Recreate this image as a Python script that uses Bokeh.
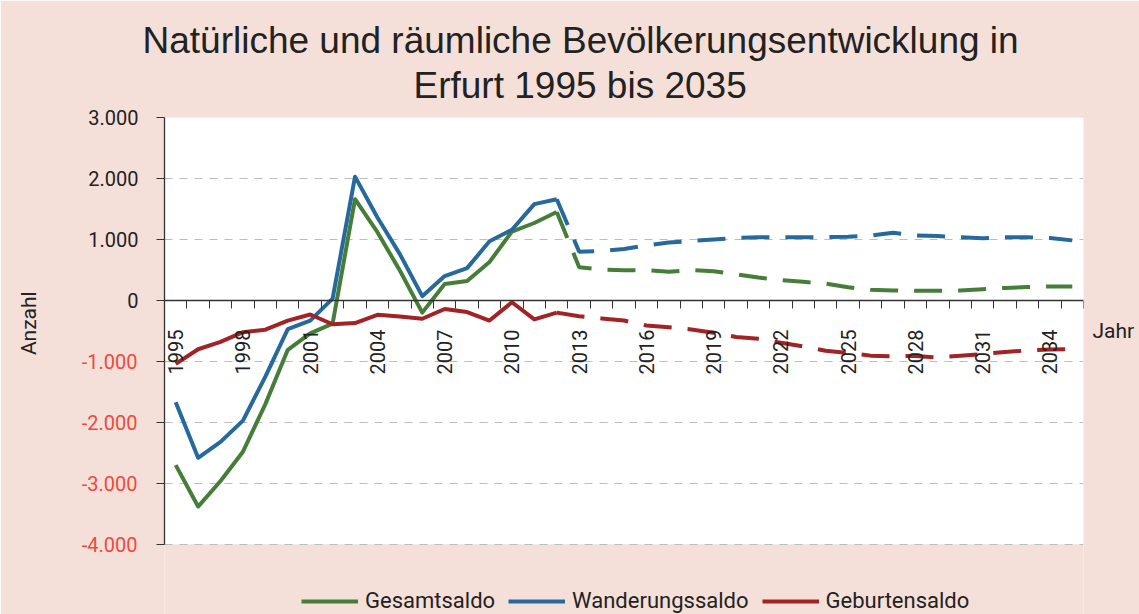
import math
from bokeh.plotting import figure
from bokeh.models import (Range1d, FixedTicker, Legend, LegendItem, Title,
                          LinearAxis, BoxAnnotation)
from bokeh.embed import file_html
from bokeh.resources import INLINE

# ---------------- data ----------------
years_hist = list(range(1995, 2013))
years_proj = list(range(2012, 2036))

gesamt_hist = [-2700, -3380, -2960, -2480, -1700, -810, -540, -380, 1660, 1120,
               490, -200, 270, 320, 630, 1130, 1270, 1450]
wander_hist = [-1670, -2580, -2320, -1970, -1250, -470, -330, 30, 2030, 1360,
               760, 70, 400, 530, 970, 1160, 1580, 1660]
geburt_hist = [-1040, -800, -680, -520, -480, -330, -230, -390, -370, -235,
               -265, -300, -140, -190, -330, -30, -310, -200]

gesamt_proj = [1450, 545, 505, 495, 495, 470, 500, 480, 430, 375, 335, 305,
               275, 215, 175, 165, 160, 160, 165, 185, 205, 220, 230, 230]
wander_proj = [1660, 800, 810, 845, 900, 950, 975, 1000, 1025, 1035, 1035, 1035,
               1040, 1045, 1065, 1110, 1065, 1055, 1035, 1020, 1035, 1035, 1025, 985]
geburt_proj = [-200, -260, -295, -330, -410, -440, -475, -530, -600, -630, -695, -755,
               -825, -860, -905, -915, -910, -935, -905, -880, -845, -820, -805, -800]

y_min, y_max = -4000, 3000
pos_ticks = [0, 1000, 2000, 3000]
pos_labels = ["0", "1.000", "2.000", "3.000"]
neg_ticks = [-4000, -3000, -2000, -1000]
neg_labels = ["-4.000", "-3.000", "-2.000", "-1.000"]
x_label_years = list(range(1995, 2035, 3))
all_years = list(range(1995, 2036))

title_line1 = "Natürliche und räumliche Bevölkerungsentwicklung in"
title_line2 = "Erfurt 1995 bis 2035"
series_names = ["Gesamtsaldo", "Wanderungssaldo", "Geburtensaldo"]
x_name = "Jahr"
y_name = "Anzahl"

# ---------------- style ----------------
PINK = "#F5E0D9"
GREEN = "#467E39"
BLUE = "#26699A"
RED = "#A12326"
NEG = "#EE4A3D"
TXT = "#222222"
AX = "#333333"
FONT = "Roboto"
TFONT = "Liberation Sans"
Y_NAME_AT = 150      # vertical anchor of the y caption
X_NAME_AT = -500     # vertical anchor of the x caption

# frame reaches the bottom of the canvas so the legend can sit inside it;
# the white plot area is drawn as a box from y_min to y_max
p = figure(width=1139, height=614,
           x_range=Range1d(1994.5, 2035.5), y_range=Range1d(-5150, y_max),
           output_backend="svg", toolbar_location=None,
           background_fill_color=PINK, border_fill_color=PINK,
           outline_line_color=None,
           min_border_left=164, min_border_right=56,
           min_border_top=117, min_border_bottom=0)

p.add_layout(BoxAnnotation(bottom=y_min, top=y_max, fill_color="white",
                           fill_alpha=1, line_color=None, level="image"))

# titles (p.title is outermost)
p.title.text = title_line1
p.title.align = "left"
p.title.offset = -22
p.title.text_font = TFONT
p.title.text_font_size = "37px"
p.title.text_font_style = "normal"
p.title.text_color = TXT
p.title.standoff = -20
p.add_layout(Title(text=title_line2, align="left", offset=249, text_font=TFONT,
                   text_font_size="37px", text_font_style="normal",
                   text_color=TXT, standoff=24), "above")

# x axis at y = 0
xa = p.xaxis[0]
xa.fixed_location = 0
xa.ticker = FixedTicker(ticks=x_label_years,
                        minor_ticks=[y - 0.5 for y in all_years + [2036]])
xa.major_label_overrides = {y: str(y) for y in x_label_years}
xa.major_tick_out = 0
xa.major_tick_in = 0
xa.minor_tick_out = 8
xa.minor_tick_in = 0
xa.minor_tick_line_color = AX
xa.axis_line_color = AX
xa.axis_line_width = 1.3
xa.major_label_orientation = math.pi / 2
xa.major_label_text_font = FONT
xa.major_label_text_font_size = "20px"
xa.major_label_text_color = TXT
xa.major_label_standoff = 21

# inner y axis: positive labels (black), axis line limited to the value range
ya = p.yaxis[0]
ya.bounds = (y_min, y_max)
ya.ticker = FixedTicker(ticks=pos_ticks + neg_ticks, minor_ticks=[])
overrides = {t: l for t, l in zip(pos_ticks, pos_labels)}
for t in neg_ticks:
    overrides[t] = ""
ya.major_label_overrides = overrides
ya.major_tick_out = 8
ya.major_tick_in = 0
ya.minor_tick_out = 0
ya.minor_tick_in = 0
ya.major_tick_line_color = AX
ya.axis_line_color = AX
ya.axis_line_width = 1.3
ya.major_label_text_font = FONT
ya.major_label_text_font_size = "20px"
ya.major_label_text_color = TXT
ya.major_label_standoff = 18

# second y axis: negative labels (red) shifted onto the same column
yb = LinearAxis(ticker=FixedTicker(ticks=neg_ticks, minor_ticks=[]),
                major_label_overrides={t: l for t, l in zip(neg_ticks, neg_labels)},
                axis_line_color=None, major_tick_line_color=None,
                minor_tick_line_color=None, major_tick_out=0, major_tick_in=0,
                minor_tick_out=0, minor_tick_in=0,
                major_label_standoff=-52,
                major_label_text_font=FONT, major_label_text_font_size="20px",
                major_label_text_color=NEG)
p.add_layout(yb, "left")

# outermost left axis: only the vertical "Anzahl" caption
yc = LinearAxis(ticker=FixedTicker(ticks=[Y_NAME_AT], minor_ticks=[]),
                major_label_overrides={Y_NAME_AT: y_name},
                major_label_orientation=math.pi / 2,
                axis_line_color=None, major_tick_line_color=None,
                minor_tick_line_color=None, major_tick_out=0, major_tick_in=0,
                minor_tick_out=0, minor_tick_in=0, major_label_standoff=49,
                major_label_text_font=FONT, major_label_text_font_size="21px",
                major_label_text_color=TXT)
p.add_layout(yc, "left")

# right axis carrying only the "Jahr" caption
yr = LinearAxis(ticker=FixedTicker(ticks=[X_NAME_AT], minor_ticks=[]),
                major_label_overrides={X_NAME_AT: x_name},
                axis_line_color=None, major_tick_line_color=None,
                minor_tick_line_color=None, major_tick_out=0, major_tick_in=0,
                minor_tick_out=0, minor_tick_in=0, major_label_standoff=9,
                major_label_text_font=FONT, major_label_text_font_size="21px",
                major_label_text_color=TXT)
p.add_layout(yr, "right")

# grid
p.xgrid.visible = False
p.ygrid.ticker = FixedTicker(ticks=pos_ticks + neg_ticks)
p.ygrid.grid_line_color = "#BDBDBD"
p.ygrid.grid_line_dash = "8 7"
p.ygrid.grid_line_width = 1

# lines
LW = 4
g1 = p.line(years_hist, gesamt_hist, line_color=GREEN, line_width=LW, line_join="round")
p.line(years_proj, gesamt_proj, line_color=GREEN, line_width=LW, line_dash="28 16")
b1 = p.line(years_hist, wander_hist, line_color=BLUE, line_width=LW, line_join="round")
p.line(years_proj, wander_proj, line_color=BLUE, line_width=LW, line_dash="28 16")
r1 = p.line(years_hist, geburt_hist, line_color=RED, line_width=LW, line_join="round")
p.line(years_proj, geburt_proj, line_color=RED, line_width=LW, line_dash="28 16")

legend = Legend(items=[LegendItem(label=series_names[0], renderers=[g1]),
                       LegendItem(label=series_names[1], renderers=[b1]),
                       LegendItem(label=series_names[2], renderers=[r1])],
                orientation="horizontal", location=(137, 1),
                padding=0, margin=0, spacing=13, label_standoff=7,
                glyph_width=57, glyph_height=20,
                background_fill_alpha=0, border_line_color=None,
                label_text_font=FONT, label_text_font_size="22px",
                label_text_color=TXT)
p.add_layout(legend, "center")

open("out.html", "w").write(file_html(p, INLINE))
